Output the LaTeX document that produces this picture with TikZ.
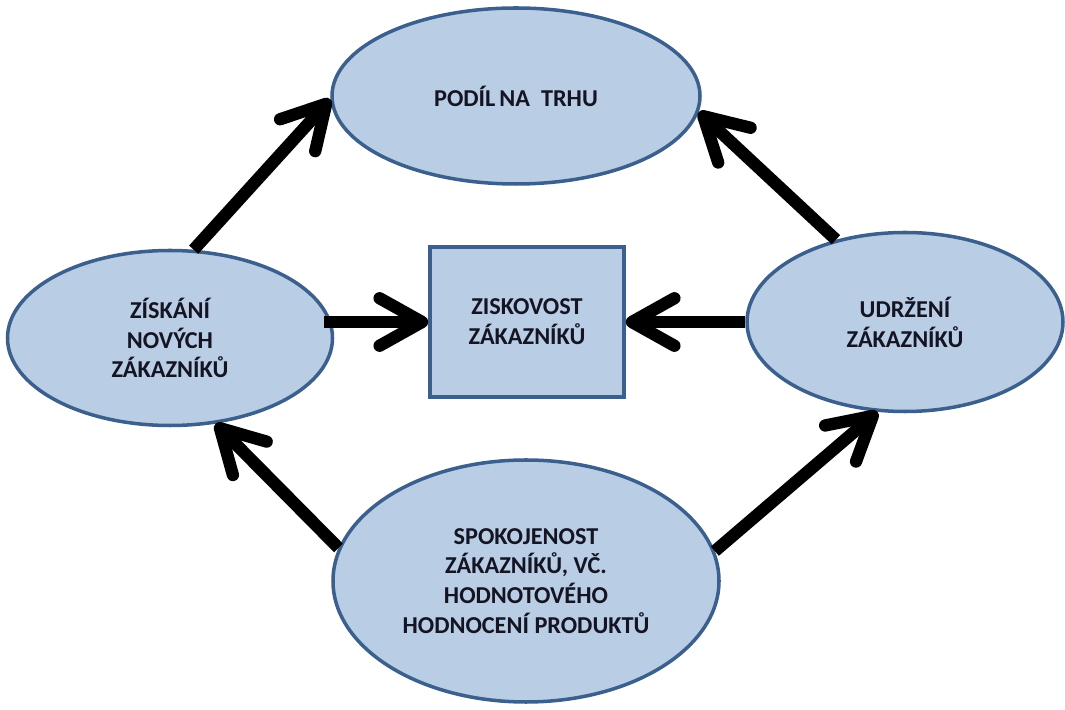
\documentclass[tikz,border=0pt]{standalone}
\usepackage{fontspec}
\setmainfont{Carlito}
\usetikzlibrary{arrows.meta,shapes.geometric}
\definecolor{cfill}{RGB}{185,205,229}
\definecolor{cline}{RGB}{60,96,142}
\definecolor{ctext}{RGB}{20,20,35}

\begin{document}
\begin{tikzpicture}[font=\fontsize{13.8}{17}\selectfont\bfseries,text=ctext,
    oval/.style={ellipse,draw=cline,line width=2pt,fill=cfill,inner sep=0pt,align=center},
    sipka/.style={line width=7pt,-{Straight Barb[length=8.5mm,width=9.5mm,line cap=round,line join=round]}}]
        \useasboundingbox (0,0) rectangle (21.3,14.2);
        \node[oval,minimum width=7.36cm,minimum height=3.52cm] (podil) at (10.32,12.28) {PODÍL\,NA\ \ TRHU};
        \node[oval,minimum width=6.5cm,minimum height=3.5cm] (ziskani) at (3.40,7.44) {ZÍSKÁNÍ\\NOVÝCH\\ZÁKAZNÍKŮ};
        \node[oval,minimum width=6.32cm,minimum height=3.58cm] (udrzeni) at (18.10,7.76) {UDRŽENÍ\\ZÁKAZNÍKŮ};
        \node[oval,minimum width=7.72cm,minimum height=4.84cm] (spokoj) at (10.52,2.58) {SPOKOJENOST\\ZÁKAZNÍKŮ, VČ.\\HODNOTOVÉHO\\HODNOCENÍ PRODUKTŮ};
        \node[draw=cline,line width=2pt,fill=cfill,minimum width=3.88cm,minimum height=3cm,align=center] (zisk) at (10.54,7.76) {ZISKOVOST\\ZÁKAZNÍKŮ};
        \draw[sipka] (ziskani.75) -- (podil.181);
        \draw[sipka] (udrzeni.130) -- (podil.-5);
        \draw[sipka,shorten <=-2mm] (zisk.west -| ziskani.east) -- (zisk.west);
        \draw[sipka] (udrzeni.west) -- (zisk.east);
        \draw[sipka] (spokoj.170) -- (ziskani.-62);
        \draw[sipka] (spokoj.9) -- (udrzeni.-107);
      \end{tikzpicture}
\end{document}
